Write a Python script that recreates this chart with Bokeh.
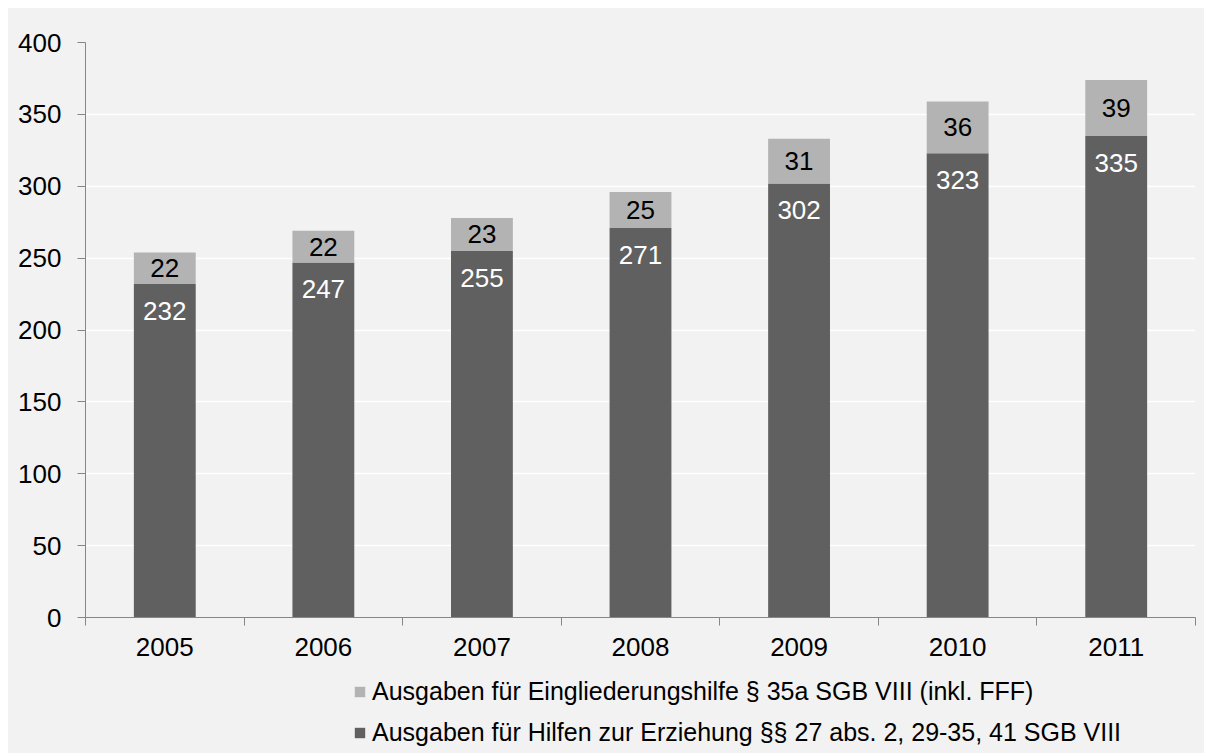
from bokeh.plotting import figure
from bokeh.layouts import column
from bokeh.models import Range1d, LinearAxis, FixedTicker, ColumnDataSource, Legend, LegendItem
from bokeh.core.properties import value
from bokeh.embed import file_html
from bokeh.resources import INLINE

years = ["2005", "2006", "2007", "2008", "2009", "2010", "2011"]
hze = [232, 247, 255, 271, 302, 323, 335]
eingl = [22, 22, 23, 25, 31, 36, 39]
y_ticks = [0, 50, 100, 150, 200, 250, 300, 350, 400]
legend_labels = [
    "Ausgaben für Eingliederungshilfe § 35a SGB VIII (inkl. FFF)",
    "Ausgaben für Hilfen zur Erziehung §§ 27 abs. 2, 29-35, 41 SGB VIII",
]

DARK = "#606060"
LIGHT = "#b3b3b3"
BG = "#f2f2f2"
AXIS = "#868686"
FONT = "Liberation Sans"
FS = "26px"

n = len(years)
xs = [i + 0.5 for i in range(n)]
totals = [a + b for a, b in zip(hze, eingl)]

p = figure(width=1196, height=659, output_backend="svg", toolbar_location=None,
           x_range=Range1d(0, n), y_range=Range1d(0, 400), x_axis_type=None,
           min_border_left=77, min_border_right=9, min_border_top=34, min_border_bottom=50,
           background_fill_color=BG, border_fill_color=BG, outline_line_color=None)

# y axis
ya = p.yaxis[0]
ya.ticker = FixedTicker(ticks=y_ticks)
ya.axis_line_color = AXIS
ya.major_tick_line_color = AXIS
ya.major_tick_out = 8
ya.major_tick_in = 0
ya.minor_tick_line_color = None
ya.major_label_text_font = FONT
ya.major_label_text_font_size = FS
ya.major_label_text_color = "#000000"
ya.major_label_standoff = 16
p.ygrid.ticker = FixedTicker(ticks=y_ticks[1:])
p.ygrid.grid_line_color = "#ffffff"
p.ygrid.grid_line_width = 1.5

# x axis: boundary ticks
xa = LinearAxis(ticker=FixedTicker(ticks=list(range(n + 1))),
                major_label_overrides={i: "" for i in range(n + 1)},
                axis_line_color=AXIS, major_tick_line_color=AXIS,
                major_tick_out=8, major_tick_in=0, minor_tick_line_color=None,
                major_label_standoff=0)
p.add_layout(xa, "below")
# x axis: category labels
xl = LinearAxis(ticker=FixedTicker(ticks=xs),
                major_label_overrides={x: y for x, y in zip(xs, years)},
                axis_line_color=None, major_tick_line_color=None, minor_tick_line_color=None,
                major_tick_out=0, major_tick_in=0,
                major_label_text_font=FONT, major_label_text_font_size=FS,
                major_label_text_color="#000000", major_label_standoff=12)
p.add_layout(xl, "below")

src = ColumnDataSource(dict(x=xs, hze=hze, eingl=eingl, total=totals,
                            hze_lbl=[str(v) for v in hze], eingl_lbl=[str(v) for v in eingl],
                            hze_y=[v - 18.8 for v in hze],
                            eingl_y=[a + b / 2 for a, b in zip(hze, eingl)]))

dark = p.vbar(x="x", bottom=0, top="hze", width=0.39, source=src, fill_color=DARK, line_color=None)
light = p.vbar(x="x", bottom="hze", top="total", width=0.39, source=src, fill_color=LIGHT, line_color=None)

p.text(x="x", y="hze_y", text="hze_lbl", source=src, text_color="#ffffff",
       text_font=value(FONT), text_font_size=FS, text_align="center", text_baseline="middle")
p.text(x="x", y="eingl_y", text="eingl_lbl", source=src, text_color="#000000",
       text_font=value(FONT), text_font_size=FS, text_align="center", text_baseline="middle")

# legend strip below the chart
q = figure(width=1196, height=86, output_backend="svg", toolbar_location=None,
           x_range=Range1d(0, 1), y_range=Range1d(0, 1), x_axis_type=None, y_axis_type=None,
           min_border_left=0, min_border_right=0, min_border_top=0, min_border_bottom=0,
           background_fill_color=BG, border_fill_color=BG, outline_line_color=None)
q.xgrid.visible = False
q.ygrid.visible = False
leg_light = q.vbar(x=[-5], top=[0], width=0.1, fill_color=LIGHT, line_color=None)
leg_dark = q.vbar(x=[-5], top=[0], width=0.1, fill_color=DARK, line_color=None)

legend = Legend(items=[LegendItem(label=legend_labels[0], renderers=[leg_light]),
                       LegendItem(label=legend_labels[1], renderers=[leg_dark])],
                location=(268, 6), orientation="vertical",
                background_fill_alpha=0, border_line_color=None,
                label_text_font=FONT, label_text_font_size="25px", label_text_color="#000000",
                glyph_width=13, glyph_height=13, label_height=29, spacing=12,
                label_standoff=6, padding=4, margin=0)
q.add_layout(legend, "center")

layout = column(p, q, spacing=0, margin=(8, 0, 0, 8),
                styles={"background-color": BG})
open("out.html", "w").write(file_html(layout, INLINE))
